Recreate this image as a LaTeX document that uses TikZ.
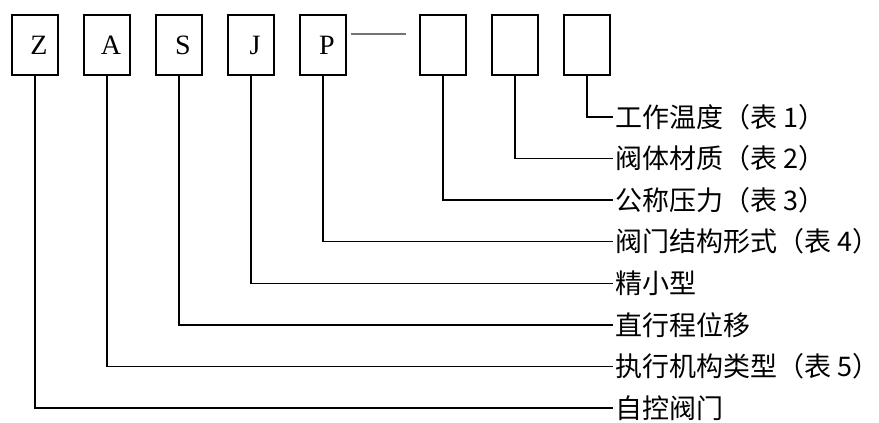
\documentclass[tikz,border=0pt]{standalone}
\usepackage{fontspec}
\setmainfont{Liberation Serif}
\newfontfamily\cjk{Noto Sans CJK SC}

\tikzset{
  codebox/.style={draw,line width=0.8pt,minimum width=23pt,minimum height=30pt,
    inner sep=0pt,outer sep=0pt},
  lbl/.style={anchor=west,inner xsep=1pt,inner ysep=0pt,
    font=\cjk\fontsize{13.5pt}{16pt}\selectfont},
  lead/.style={line width=0.7pt}
}
\newcommand\boxletter[1]{\fontsize{14pt}{16pt}\selectfont\hspace*{4pt}\raisebox{-1.5pt}{#1}}

\begin{document}
\begin{tikzpicture}[x=0.5pt,y=-0.5pt]
  \useasboundingbox (0,0) rectangle (879,423);

  % letter boxes
  \foreach \n/\t [count=\i from 0] in {z/Z,a/A,s/S,j/J,p/P}
    \node[codebox] (\n) at (35+72*\i,45) {\boxletter{\t}};

  % blank boxes
  \foreach \n [count=\i from 0] in {pres,matl,temp}
    \node[codebox] (\n) at (443+72*\i,45) {};

  \draw[black!55,line width=0.6pt] ([shift={(5,-11)}]p.east) -- ([shift={(-14,-11)}]pres.west);

  % labels
  \foreach \n/\t [count=\i from 0] in {
      ltemp/工作温度（表 1）,
      lmatl/阀体材质（表 2）,
      lpres/公称压力（表 3）,
      lp/阀门结构形式（表 4）,
      lj/精小型,
      ls/直行程位移,
      la/执行机构类型（表 5）,
      lz/自控阀门}
    \node[lbl] (\n) at (613,117+41.57*\i) {\t};

  % leads
  \draw[lead] (temp.south) |- (ltemp.west);
  \draw[lead] (matl.south) |- (lmatl.west);
  \draw[lead] (pres.south) |- (lpres.west);
  \draw[lead] (p.south) |- (lp.west);
  \draw[lead] (j.south) |- (lj.west);
  \draw[lead] (s.south) |- (ls.west);
  \draw[lead] (a.south) |- (la.west);
  \draw[lead] (z.south) |- (lz.west);
\end{tikzpicture}
\end{document}
